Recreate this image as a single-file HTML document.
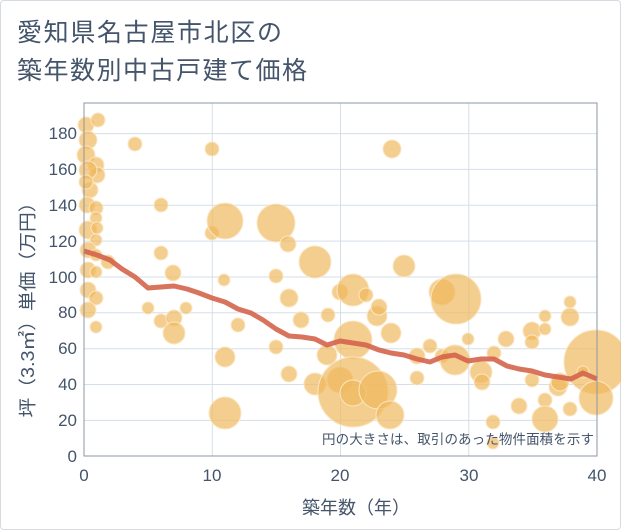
<!DOCTYPE html>
<html><head><meta charset="utf-8"><style>
body{margin:0;background:#fff;}
.f{position:absolute;left:0;top:0;width:619px;height:528px;border:1px solid #d6dbe3;border-radius:4px;}
text{font-family:"Liberation Sans","Noto Sans CJK JP",sans-serif;fill:#44546a;}
</style></head><body>
<div class="f"></div>
<svg width="621" height="530" style="position:absolute;left:0;top:0">
<text x="17" y="41" font-size="25" fill="#666" textLength="265">愛知県名古屋市北区の</text>
<text x="17" y="79" font-size="25" fill="#666" textLength="290">築年数別中古戸建て価格</text>
<g stroke="#d5dfe9" stroke-width="1">
<line x1="84" x2="597" y1="420.4" y2="420.4"/><line x1="84" x2="597" y1="384.5" y2="384.5"/>
<line x1="84" x2="597" y1="348.7" y2="348.7"/><line x1="84" x2="597" y1="312.8" y2="312.8"/>
<line x1="84" x2="597" y1="277" y2="277"/><line x1="84" x2="597" y1="241.1" y2="241.1"/>
<line x1="84" x2="597" y1="205.3" y2="205.3"/><line x1="84" x2="597" y1="169.4" y2="169.4"/>
<line x1="84" x2="597" y1="133.6" y2="133.6"/>
<line x1="212.3" x2="212.3" y1="103" y2="456"/><line x1="340.5" x2="340.5" y1="103" y2="456"/><line x1="468.8" x2="468.8" y1="103" y2="456"/>
</g>
<g fill="#f0b95e" fill-opacity="0.7" stroke="#fbe6c3" stroke-width="1">
<circle cx="86" cy="125" r="8"/><circle cx="88" cy="140" r="9"/><circle cx="86" cy="155" r="9"/><circle cx="98" cy="120" r="7"/>
<circle cx="96" cy="165" r="8"/><circle cx="97" cy="175" r="8"/><circle cx="88" cy="170" r="9"/><circle cx="90" cy="190" r="8"/>
<circle cx="87" cy="205" r="8"/><circle cx="96" cy="208" r="7"/><circle cx="96" cy="218" r="6"/><circle cx="88" cy="230" r="9"/>
<circle cx="97" cy="228" r="6"/><circle cx="96" cy="240" r="6"/><circle cx="88" cy="250" r="8"/><circle cx="96" cy="255" r="6"/>
<circle cx="108" cy="262" r="7"/><circle cx="88" cy="270" r="8"/><circle cx="96" cy="272" r="6"/><circle cx="88" cy="290" r="8"/>
<circle cx="96" cy="298" r="7"/><circle cx="88" cy="310" r="8"/><circle cx="96" cy="327" r="6"/><circle cx="86" cy="182" r="7"/>
<circle cx="135" cy="144" r="7"/><circle cx="212" cy="149" r="7"/><circle cx="161" cy="205" r="7"/><circle cx="161" cy="253" r="7"/>
<circle cx="173" cy="273" r="8"/><circle cx="212" cy="233" r="7"/><circle cx="225" cy="221" r="18"/><circle cx="224" cy="280" r="6"/>
<circle cx="148" cy="308" r="6"/><circle cx="161" cy="321" r="7"/><circle cx="174" cy="318" r="8"/><circle cx="186" cy="308" r="6"/>
<circle cx="174" cy="333" r="11"/><circle cx="225" cy="357" r="10"/><circle cx="225" cy="413" r="16"/><circle cx="238" cy="325" r="7"/>
<circle cx="276" cy="223" r="19"/><circle cx="288" cy="244" r="8"/><circle cx="276" cy="276" r="7"/><circle cx="289" cy="298" r="9"/>
<circle cx="301" cy="320" r="8"/><circle cx="276" cy="347" r="7"/><circle cx="289" cy="374" r="8"/><circle cx="315" cy="262" r="16"/>
<circle cx="328" cy="315" r="7"/><circle cx="340" cy="292" r="8"/><circle cx="353" cy="290" r="16"/><circle cx="366" cy="295" r="7"/>
<circle cx="327" cy="355" r="10"/><circle cx="315" cy="384" r="11"/><circle cx="353" cy="340" r="19"/><circle cx="340" cy="380" r="13"/>
<circle cx="353" cy="392" r="35"/><circle cx="377" cy="316" r="10"/><circle cx="379" cy="307" r="8"/><circle cx="391" cy="333" r="10"/>
<circle cx="353" cy="393" r="13"/><circle cx="378" cy="390" r="19"/><circle cx="390" cy="415" r="14"/><circle cx="392" cy="149" r="9"/>
<circle cx="404" cy="266" r="11"/><circle cx="417" cy="356" r="8"/><circle cx="417" cy="378" r="7"/><circle cx="430" cy="346" r="7"/>
<circle cx="442" cy="292" r="13"/><circle cx="442" cy="356" r="7"/><circle cx="456" cy="299" r="25"/><circle cx="468" cy="339" r="6"/>
<circle cx="455" cy="360" r="15"/><circle cx="481" cy="372" r="11"/><circle cx="482" cy="382" r="8"/><circle cx="494" cy="353" r="7"/>
<circle cx="493" cy="422" r="7"/><circle cx="493" cy="443" r="6"/><circle cx="519" cy="406" r="8"/><circle cx="506" cy="339" r="8"/>
<circle cx="532" cy="331" r="9"/><circle cx="532" cy="342" r="7"/><circle cx="545" cy="316" r="6"/><circle cx="545" cy="329" r="6"/>
<circle cx="532" cy="380" r="7"/><circle cx="545" cy="400" r="7"/><circle cx="545" cy="419" r="13"/><circle cx="558" cy="387" r="9"/>
<circle cx="570" cy="302" r="6"/><circle cx="570" cy="317" r="9"/><circle cx="570" cy="409" r="7"/><circle cx="596" cy="362" r="32"/>
<circle cx="596" cy="398" r="17"/><circle cx="583" cy="372" r="6"/><circle cx="560" cy="382" r="9"/>
</g>
<polyline fill="none" stroke="#d4644c" stroke-opacity="0.9" stroke-width="5" stroke-linejoin="round" points="84,251 97,255 110,260 122,269 135,277 148,288 161,287 174,286 187,289 199,293 212,298 225,302 238,309 251,313 263,320 276,329 289,336 302,337 315,339 327,345 340,341 353,343 366,345 379,350 391,353 404,355 417,359 430,362 442,357 455,355 468,361 481,359 494,359 507,366 519,369 532,371 545,375 558,377 571,379 583,373 597,379"/>
<rect x="84" y="103" width="513" height="353" fill="none" stroke="#8c96a3" stroke-width="1"/>
<text x="594" y="444" font-size="13.5" text-anchor="end" textLength="272">円の大きさは、取引のあった物件面積を示す</text>
<g font-size="17" text-anchor="end">
<text x="77" y="462">0</text><text x="77" y="426">20</text><text x="77" y="390">40</text><text x="77" y="354">60</text><text x="77" y="318">80</text>
<text x="77" y="283">100</text><text x="77" y="247">120</text><text x="77" y="211">140</text><text x="77" y="175">160</text><text x="77" y="139">180</text>
</g>
<g font-size="17" text-anchor="middle">
<text x="84" y="481">0</text><text x="212" y="481">10</text><text x="340" y="481">20</text><text x="469" y="481">30</text><text x="597" y="481">40</text>
<text x="356" y="514" font-size="18">築年数（年）</text>
</g>
<text transform="translate(34,305) rotate(-90)" font-size="18" text-anchor="middle" textLength="225" lengthAdjust="spacingAndGlyphs">坪（3.3㎡）単価（万円）</text>
</svg>
</body></html>
